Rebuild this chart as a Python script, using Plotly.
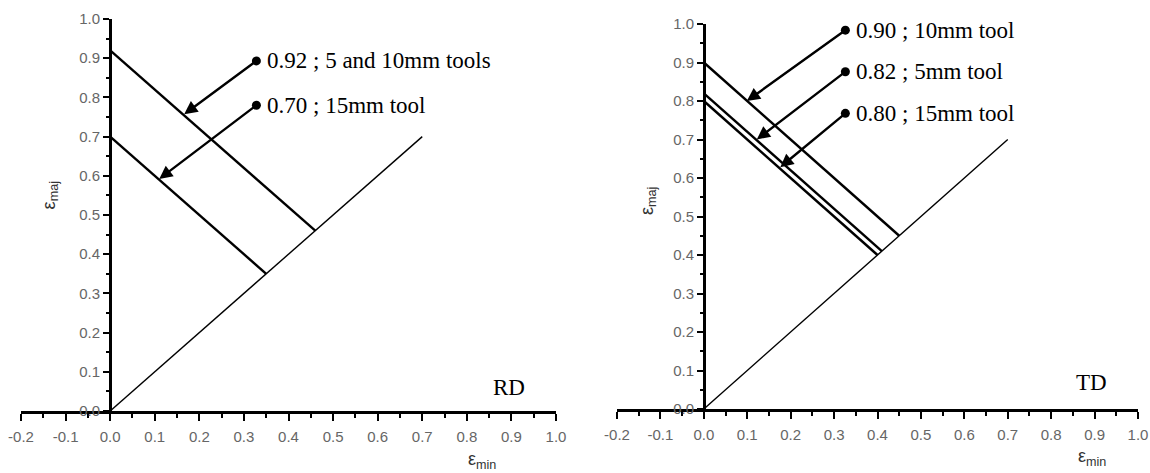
import plotly.graph_objects as go

# ---------------- data ----------------
rd_fld0 = [0.92, 0.70]          # FLD0 intercepts, RD panel
rd_end = [0.46, 0.35]           # end point on the plane-strain diagonal
td_fld0 = [0.90, 0.82, 0.80]    # FLD0 intercepts, TD panel
td_end = [0.45, 0.41, 0.40]
diag_x = [0.0, 0.70]
diag_y = [0.0, 0.70]

rd_labels = ["0.92 ; 5 and 10mm tools", "0.70 ; 15mm tool"]
td_labels = ["0.90 ; 10mm tool", "0.82 ; 5mm tool", "0.80 ; 15mm tool"]
# arrow tail (dot) and tip positions in data units
rd_tail_x = [0.328, 0.328]
rd_tail_y = [0.893, 0.780]
rd_tip_x = [0.166, 0.110]
rd_tip_y = [0.757, 0.592]
td_tail_x = [0.326, 0.326, 0.326]
td_tail_y = [0.984, 0.876, 0.768]
td_tip_x = [0.099, 0.122, 0.176]
td_tip_y = [0.800, 0.700, 0.628]

tickvals = [-0.2, -0.1, 0.0, 0.1, 0.2, 0.3, 0.4, 0.5, 0.6, 0.7, 0.8, 0.9, 1.0]
yticks = [0.0, 0.1, 0.2, 0.3, 0.4, 0.5, 0.6, 0.7, 0.8, 0.9, 1.0]

W, H = 1150, 473
TICKFONT = dict(family="Liberation Sans, Arial", size=15, color="#666666")
SERIF = dict(family="Liberation Serif, Times New Roman", size=23, color="black")
TITLEFONT = dict(family="Liberation Sans, Arial", size=18, color="#333333")

fig = go.Figure()

def add_panel(xa, ya, fld0, ends, tails_x, tails_y, tips_x, tips_y, labels, tag, tag_xy, xtitle_xy, ytitle_xy):
    for c, e in zip(fld0, ends):
        fig.add_trace(go.Scatter(x=[0, e], y=[c, e], mode="lines",
                                 line=dict(color="black", width=2.4),
                                 xaxis=xa, yaxis=ya, showlegend=False, hoverinfo="skip"))
    fig.add_trace(go.Scatter(x=diag_x, y=diag_y, mode="lines",
                             line=dict(color="black", width=1.4),
                             xaxis=xa, yaxis=ya, showlegend=False, hoverinfo="skip"))
    fig.add_trace(go.Scatter(x=tails_x, y=tails_y, mode="markers",
                             marker=dict(color="black", size=9),
                             xaxis=xa, yaxis=ya, showlegend=False, hoverinfo="skip"))
    for tx, ty, hx, hy, lab in zip(tails_x, tails_y, tips_x, tips_y, labels):
        fig.add_annotation(x=hx, y=hy, ax=tx, ay=ty, xref=xa, yref=ya, axref=xa, ayref=ya,
                           text="", showarrow=True, arrowhead=2, arrowsize=1.1,
                           arrowwidth=2.4, arrowcolor="black", standoff=0, startstandoff=0)
        fig.add_annotation(x=tx + 0.02, y=ty, xref=xa, yref=ya, text=lab, showarrow=False,
                           xanchor="left", yanchor="middle", font=SERIF)
    fig.add_annotation(x=tag_xy[0], y=tag_xy[1], xref=xa, yref=ya, text=tag, showarrow=False,
                       xanchor="center", yanchor="middle", font=SERIF)
    # x title lies below the y range, so anchor it vertically in paper units
    fig.add_annotation(x=xtitle_xy[0], y=xtitle_xy[1], xref=xa, yref="paper",
                       text="ε<sub>min</sub>", showarrow=False, yanchor="middle",
                       font=TITLEFONT)
    fig.add_annotation(x=ytitle_xy[0], y=ytitle_xy[1], xref=xa, yref=ya,
                       text="ε<sub>maj</sub>", showarrow=False, textangle=-90,
                       font=TITLEFONT)

add_panel("x", "y", rd_fld0, rd_end, rd_tail_x, rd_tail_y, rd_tip_x, rd_tip_y, rd_labels,
          "RD", (0.894, 0.059), (0.834, (H - 460) / H), (-0.135, 0.55))
add_panel("x2", "y2", td_fld0, td_end, td_tail_x, td_tail_y, td_tip_x, td_tip_y, td_labels,
          "TD", (0.892, 0.068), (0.894, (H - 457) / H), (-0.129, 0.54))

def xaxis_cfg(domain):
    return dict(domain=domain, range=[-0.2, 1.0], showgrid=False, zeroline=False,
                showline=True, linewidth=3, linecolor="black",
                ticks="outside", ticklen=7, tickwidth=2.2, tickcolor="black",
                tickvals=tickvals, ticktext=[f"{v:.1f}" for v in tickvals],
                tickfont=TICKFONT, ticklabelstandoff=3, automargin=False,
                minor=dict(dtick=0.05, tick0=0, ticks="outside", ticklen=4,
                           tickwidth=2.2, tickcolor="black", showgrid=False))

def yaxis_cfg(domain, pos):
    return dict(domain=domain, range=[0, 1.0], showgrid=False, zeroline=False,
                showline=True, linewidth=3, linecolor="black",
                anchor="free", position=pos, automargin=False,
                ticks="outside", ticklen=6, tickwidth=2.2, tickcolor="black",
                tickvals=yticks, ticktext=[f"{v:.1f}" for v in yticks],
                tickfont=TICKFONT,
                minor=dict(dtick=0.05, tick0=0, ticks="outside", ticklen=3,
                           tickwidth=2.2, tickcolor="black", showgrid=False))

fig.update_layout(
    width=W, height=H,
    margin=dict(l=0, r=0, t=0, b=0, pad=0, autoexpand=False),
    paper_bgcolor="white", plot_bgcolor="white",
    xaxis=dict(xaxis_cfg([21 / W, 556 / W]), anchor="y"),
    yaxis=yaxis_cfg([(H - 411) / H, (H - 19) / H], 110 / W),
    xaxis2=dict(xaxis_cfg([617 / W, 1138 / W]), anchor="y2"),
    yaxis2=yaxis_cfg([(H - 409) / H, (H - 24) / H], 704 / W),
)

fig.write_html("out.html", config={"displayModeBar": False},
               post_script="document.body.style.margin='0px';document.body.style.overflow='hidden';")
